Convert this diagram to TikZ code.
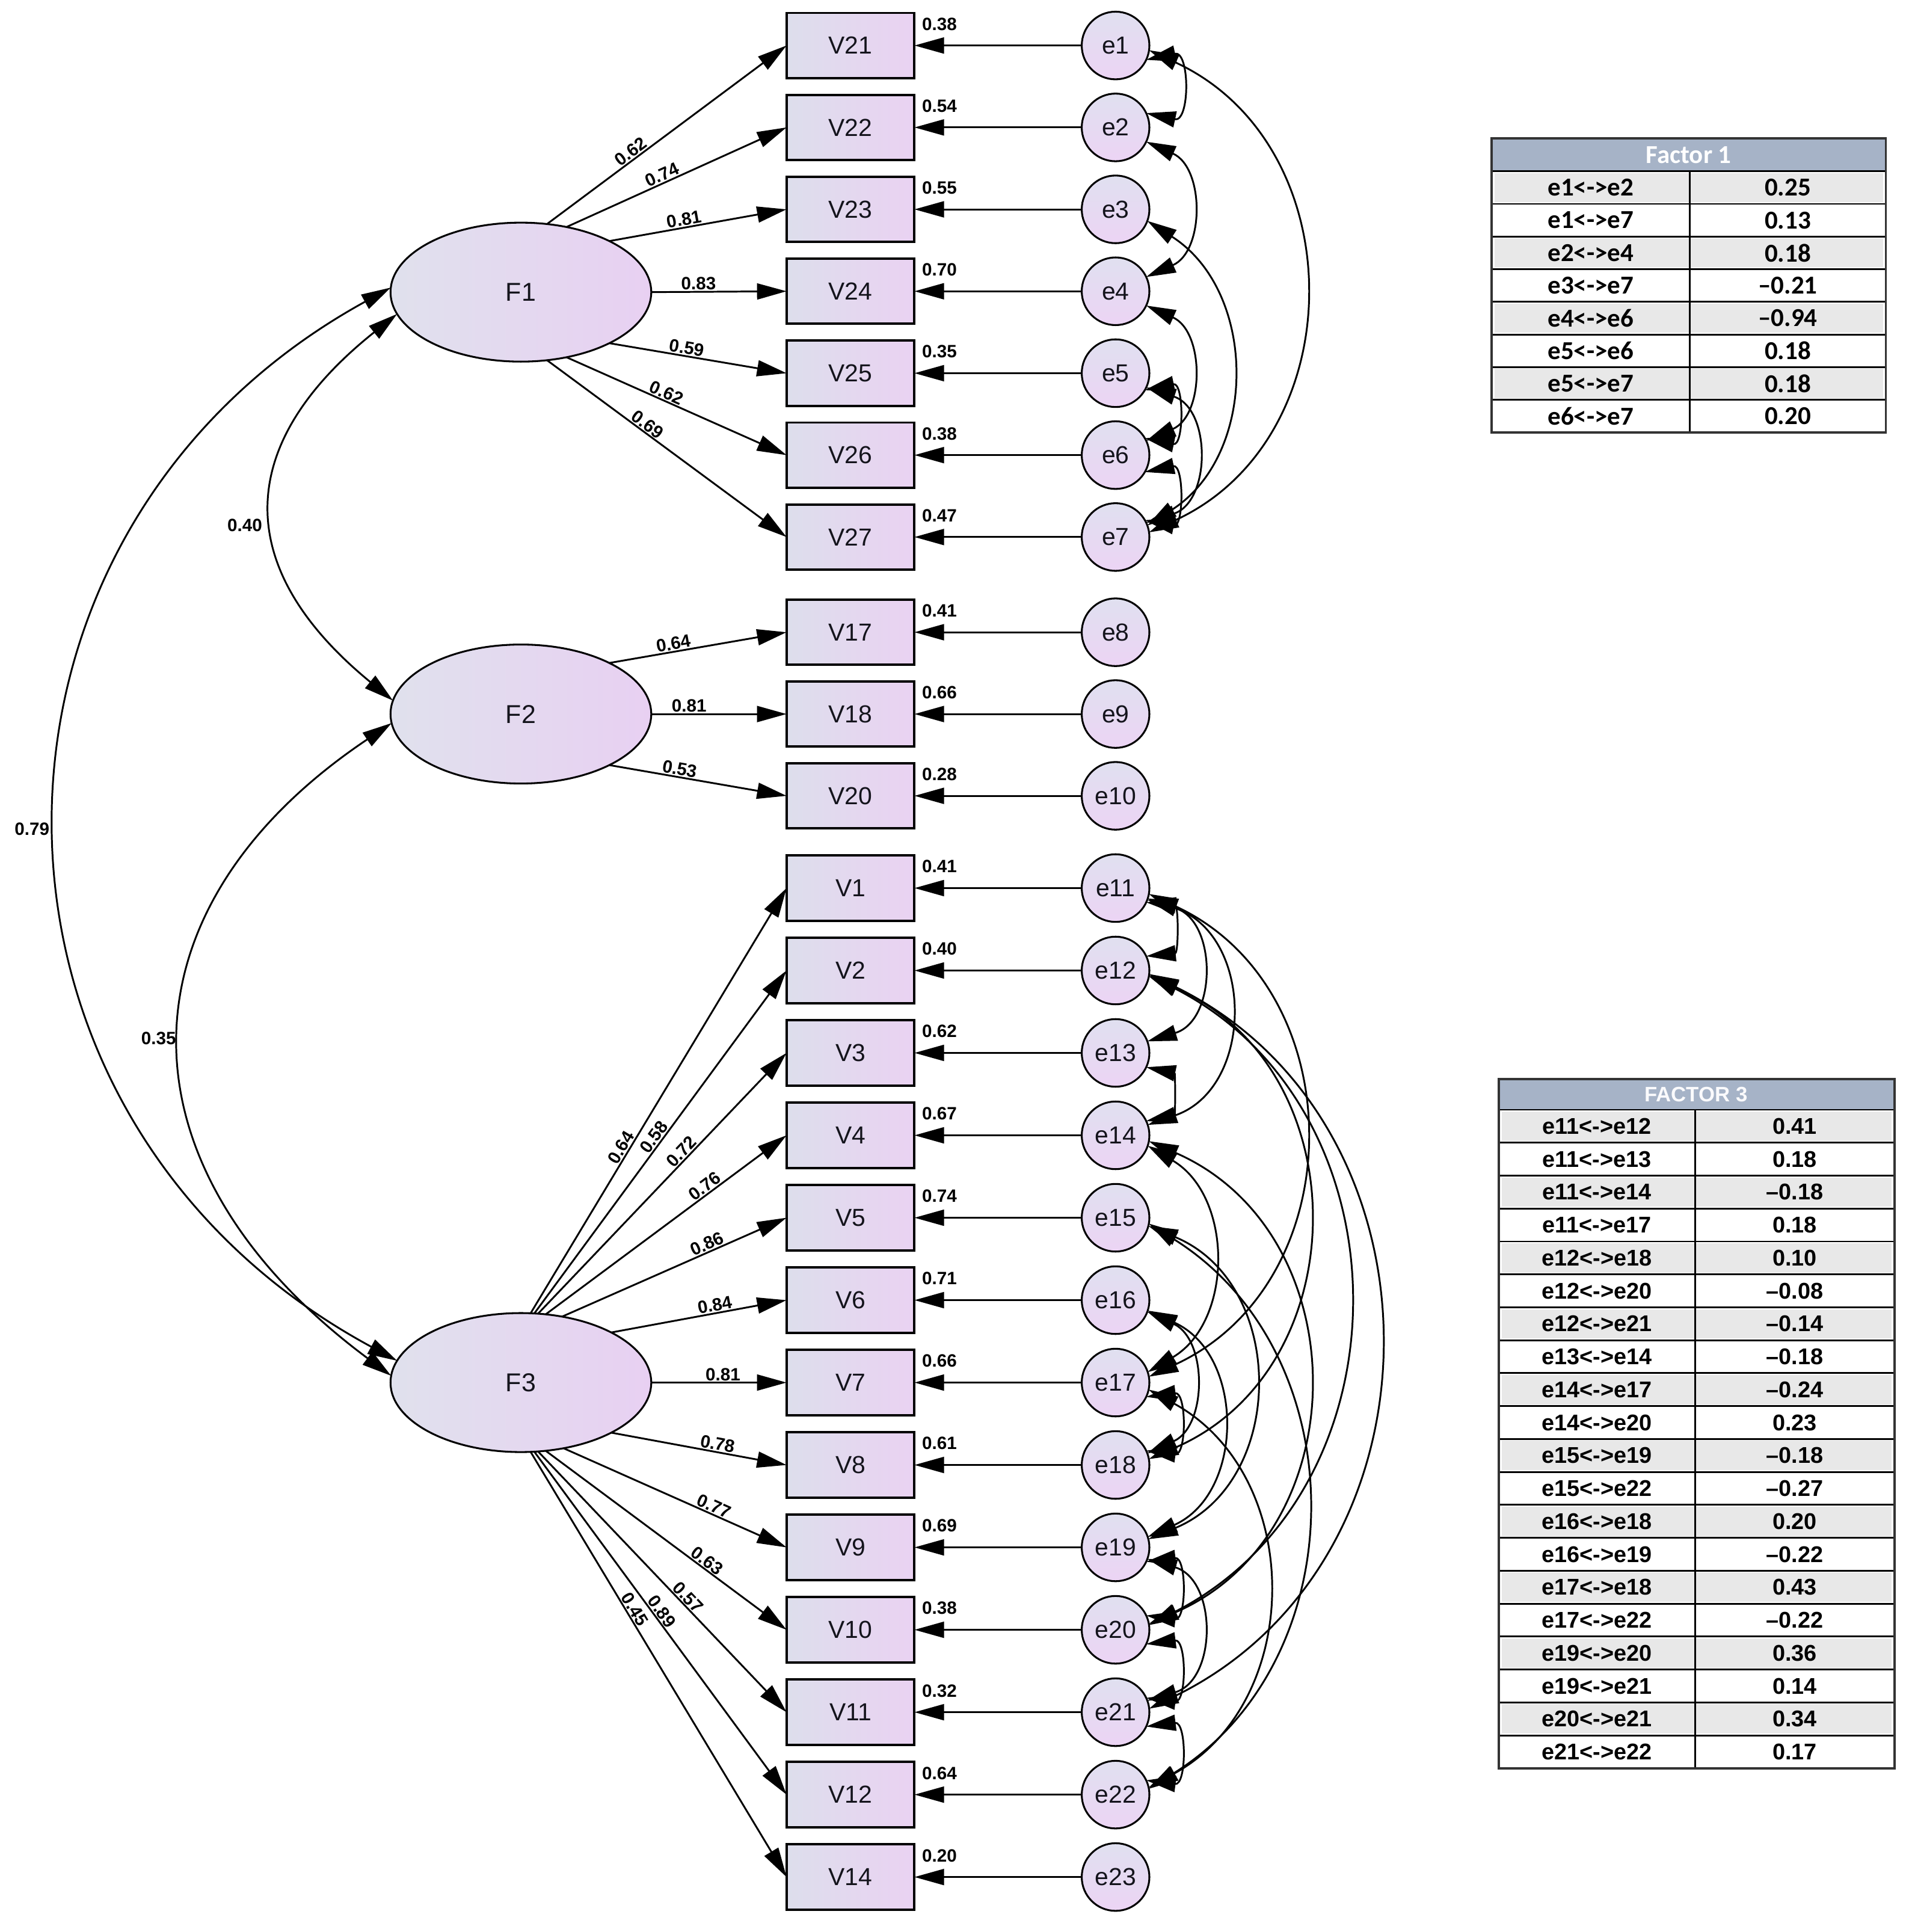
\documentclass[tikz,border=0pt]{standalone}
\usepackage{fontspec}
\setmainfont{Liberation Sans}
\newfontfamily\calfont{Carlito}
\usetikzlibrary{arrows.meta,shapes.geometric}
\definecolor{boxL}{RGB}{221,222,236}
\definecolor{boxR}{RGB}{234,210,242}
\definecolor{ellL}{RGB}{224,225,237}
\definecolor{ellR}{RGB}{232,208,242}
\definecolor{cirT}{RGB}{224,224,240}
\definecolor{cirB}{RGB}{236,212,244}
\definecolor{hdr}{RGB}{166,179,199}
\definecolor{rowg}{RGB}{232,232,232}
\definecolor{txt}{RGB}{20,20,28}
\begin{document}
\begin{tikzpicture}[x=1pt,y=1pt,>={Triangle[length=24pt,width=13pt]},
 obs/.style={draw, line width=1.9pt, minimum width=104pt, minimum height=53pt, inner sep=0pt, outer sep=0pt, left color=boxL, right color=boxR, text=txt, font=\fontsize{20}{24}\selectfont},
 err/.style={circle, draw, line width=1.5pt, minimum size=55pt, inner sep=0pt, outer sep=0pt, top color=cirT, bottom color=cirB, text=txt, font=\fontsize{20}{24}\selectfont},
 lat/.style={ellipse, draw, line width=1.5pt, minimum width=212pt, minimum height=113pt, inner sep=0pt, outer sep=0pt, left color=ellL, right color=ellR, text=txt, font=\fontsize{21}{24}\selectfont},
 ld/.style={->, line width=1.45pt},
 cov/.style={<->, line width=1.45pt},
 lbl/.style={font=\bfseries\fontsize{14.5}{16}\selectfont, inner sep=0.8pt},
 tabA/.style={font=\calfont\bfseries\fontsize{21}{22}\selectfont, inner sep=0pt},
 tabB/.style={font=\bfseries\fontsize{18.5}{20}\selectfont, inner sep=0pt},
]
\fill[white] (0,0) rectangle (1549.6,-1570.7);
\path[use as bounding box] (0,0) rectangle (1549.6,-1570.7);

% latent factors
\node[lat] (F1) at (423.5,-237.5) {F1};
\node[lat] (F2) at (423.5,-580.5) {F2};
\node[lat] (F3) at (423.5,-1124) {F3};

% observed variables and errors, factor 1
\foreach \n [count=\i from 0] in {21,22,23,24,25,26,27}
  \node[obs] (v\n) at (691.5,{-37-66.6*\i}) {V\n};
\foreach \i in {1,...,7}
  \node[err] (e\i) at (907,{-37-66.6*(\i-1)}) {e\i};
% factor 2
\node[obs] (v17) at (691.5,-514) {V17};
\node[obs] (v18) at (691.5,-580.5) {V18};
\node[obs] (v20) at (691.5,-647) {V20};
\node[err] (e8) at (907,-514) {e8};
\node[err] (e9) at (907,-580.5) {e9};
\node[err] (e10) at (907,-647) {e10};
% factor 3
\foreach \n [count=\i from 0] in {1,2,3,4,5,6,7,8,9,10,11,12,14}
  \node[obs] (v\n) at (691.5,{-722-67*\i}) {V\n};
\foreach \i in {0,...,12}{
  \pgfmathtruncatemacro\k{11+\i}
  \node[err] (e\k) at (907,{-722-67*\i}) {e\k};
}

% error -> indicator
\foreach \e/\v in {1/21,2/22,3/23,4/24,5/25,6/26,7/27,8/17,9/18,10/20,11/1,12/2,13/3,14/4,15/5,16/6,17/7,18/8,19/9,20/10,21/11,22/12,23/14}
  \draw[ld] (e\e) -- (v\v);

% squared multiple correlations
\foreach \v/\val in {21/0.38,22/0.54,23/0.55,24/0.70,25/0.35,26/0.38,27/0.47,17/0.41,18/0.66,20/0.28,1/0.41,2/0.40,3/0.62,4/0.67,5/0.74,6/0.71,7/0.66,8/0.61,9/0.69,10/0.38,11/0.32,12/0.64,14/0.20}
  \node[lbl, anchor=west, inner sep=0pt] (s\v) at ([xshift=6pt,yshift=-9pt]v\v.north east) {\val};

% loadings
\foreach \v/\g/\val/\p in {21/69/0.62/0.37,22/55/0.74/0.45,23/30/0.81/0.43,24/0/0.83/0.35,25/-30/0.59/0.43,26/-55/0.62/0.44,27/-69/0.69/0.40}
  \draw[ld] (F1.\g) -- node[lbl,pos=\p,above,sloped] (L\v) {\val} (v\v.west);
\foreach \v/\g/\val/\p in {17/30/0.64/0.37,18/0/0.81/0.28,20/-30/0.53/0.39}
  \draw[ld] (F2.\g) -- node[lbl,pos=\p,above,sloped] (L\v) {\val} (v\v.west);
\foreach \v/\g/\val/\p in {1/82/0.64/0.38,2/79/0.58/0.50,3/76/0.72/0.60,4/70/0.76/0.68,5/58/0.86/0.66,6/29/0.84/0.6,7/0/0.81/0.53,8/-29/0.78/0.6,9/-57/0.77/0.66,10/-70/0.63/0.65,11/-76/0.57/0.58,12/-79/0.89/0.48,14/-82/0.45/0.38}
  \draw[ld] (F3.\g) -- node[lbl,pos=\p,above,sloped] (L\v) {\val} (v\v.west);

% factor covariances
\draw[cov] (F1.178) .. controls (-43.9,-432.4) and (-43.9,-908.1) .. (F3.170);
\node[lbl] (c79) at (26,-674) {0.79};
\draw[cov] (F1.190) .. controls (189,-362) and (189,-462.6) .. (F2.174);
\node[lbl] (c40) at (199,-427) {0.40};
\draw[cov] (F2.184) .. controls (91.3,-740) and (91.3,-950) .. (F3.177);
\node[lbl] (c35) at (129,-844) {0.35};

% error covariances, factor 1
\foreach \a/\b/\X/\t in {1/2/959/25,1/7/1060/8,2/4/968/25,3/7/1001/20,4/6/968/25,5/6/955/30,5/7/972/25,6/7/955/30}{
  \pgfmathsetmacro\dd{(\b-\a)*66.6-56*sin(\t)}
  \pgfmathsetmacro\hh{\X-907-28*cos(\t)}
  \pgfmathsetmacro\bb{2*atan(2*\hh/\dd)}
  \pgfmathsetmacro\oo{\bb-90}
  \pgfmathsetmacro\ii{90-\bb}
  \pgfmathsetmacro\ll{1.7029/(1+cos(\bb))}
  \draw[cov] (e\a.-\t) to[out=\oo,in=\ii,looseness=\ll] (e\b.\t);
}
% error covariances, factor 3
\foreach \a/\b/\X/\t in {11/12/952/25,11/13/976/20,11/14/999/18,11/17/1060/10,12/18/1063/10,12/20/1096/8,12/21/1121/6,13/14/950/25,14/17/986/18,14/20/1063/10,15/19/1019/14,15/22/1062/10,16/18/970/20,16/19/993/18,17/18/957/25,17/22/1030/12,19/20/957/25,19/21/976/20,20/21/957/25,21/22/957/25}{
  \pgfmathsetmacro\dd{(\b-\a)*67-56*sin(\t)}
  \pgfmathsetmacro\hh{\X-907-28*cos(\t)}
  \pgfmathsetmacro\bb{2*atan(2*\hh/\dd)}
  \pgfmathsetmacro\oo{\bb-90}
  \pgfmathsetmacro\ii{90-\bb}
  \pgfmathsetmacro\ll{1.7029/(1+cos(\bb))}
  \draw[cov] (e\a.-\t) to[out=\oo,in=\ii,looseness=\ll] (e\b.\t);
}

% table Factor 1
\fill[hdr] (1212.7,-112.5) rectangle (1533.3,-139.2);
\foreach \r in {1,3,5,7}
  \fill[rowg] (1215,{-139.2-26.55*(\r-1)-1.5}) rectangle (1531,{-139.2-26.55*\r+1.5});
\foreach \r in {0,...,7}
  \draw[line width=1.4pt] (1212.7,{-139.2-26.55*\r}) -- (1533.3,{-139.2-26.55*\r});
\draw[line width=1.4pt] (1373.9,-139.2) -- (1373.9,-351.6);
\draw[line width=1.8pt, draw=black!80] (1212.7,-112.5) rectangle (1533.3,-351.6);
\node[tabA, text=white] (h1) at (1373,-126) {Factor 1};
\foreach \r/\p/\q in {1/e1<->e2/0.25,2/e1<->e7/0.13,3/e2<->e4/0.18,4/e3<->e7/–0.21,5/e4<->e6/–0.94,6/e5<->e6/0.18,7/e5<->e7/0.18,8/e6<->e7/0.20}{
  \node[tabA] (ta\r) at (1293.3,{-139.2-26.55*(\r-0.5)}) {\p};
  \node[tabA] (tb\r) at (1453.6,{-139.2-26.55*(\r-0.5)}) {\q};
}

% table Factor 3
\fill[hdr] (1218.6,-877.3) rectangle (1540.2,-902.2);
\foreach \r in {1,3,...,19}
  \fill[rowg] (1221,{-902.2-26.77*(\r-1)-1.5}) rectangle (1538,{-902.2-26.77*\r+1.5});
\foreach \r in {0,...,19}
  \draw[line width=1.4pt] (1218.6,{-902.2-26.77*\r}) -- (1540.2,{-902.2-26.77*\r});
\draw[line width=1.4pt] (1378.2,-902.2) -- (1378.2,-1437.6);
\draw[line width=1.8pt, draw=black!80] (1218.6,-877.3) rectangle (1540.2,-1437.6);
\node[font=\bfseries\fontsize{17}{18}\selectfont, inner sep=0pt, text=white!94!hdr] (h3) at (1379,-889.8) {FACTOR 3};
\foreach \r/\p/\q in {1/e11<->e12/0.41,2/e11<->e13/0.18,3/e11<->e14/–0.18,4/e11<->e17/0.18,5/e12<->e18/0.10,6/e12<->e20/–0.08,7/e12<->e21/–0.14,8/e13<->e14/–0.18,9/e14<->e17/–0.24,10/e14<->e20/0.23,11/e15<->e19/–0.18,12/e15<->e22/–0.27,13/e16<->e18/0.20,14/e16<->e19/–0.22,15/e17<->e18/0.43,16/e17<->e22/–0.22,17/e19<->e20/0.36,18/e19<->e21/0.14,19/e20<->e21/0.34,20/e21<->e22/0.17}{
  \node[tabB] (tc\r) at (1298.4,{-902.2-26.77*(\r-0.5)}) {\p};
  \node[tabB] (td\r) at (1459.2,{-902.2-26.77*(\r-0.5)}) {\q};
}
\end{tikzpicture}
\end{document}
